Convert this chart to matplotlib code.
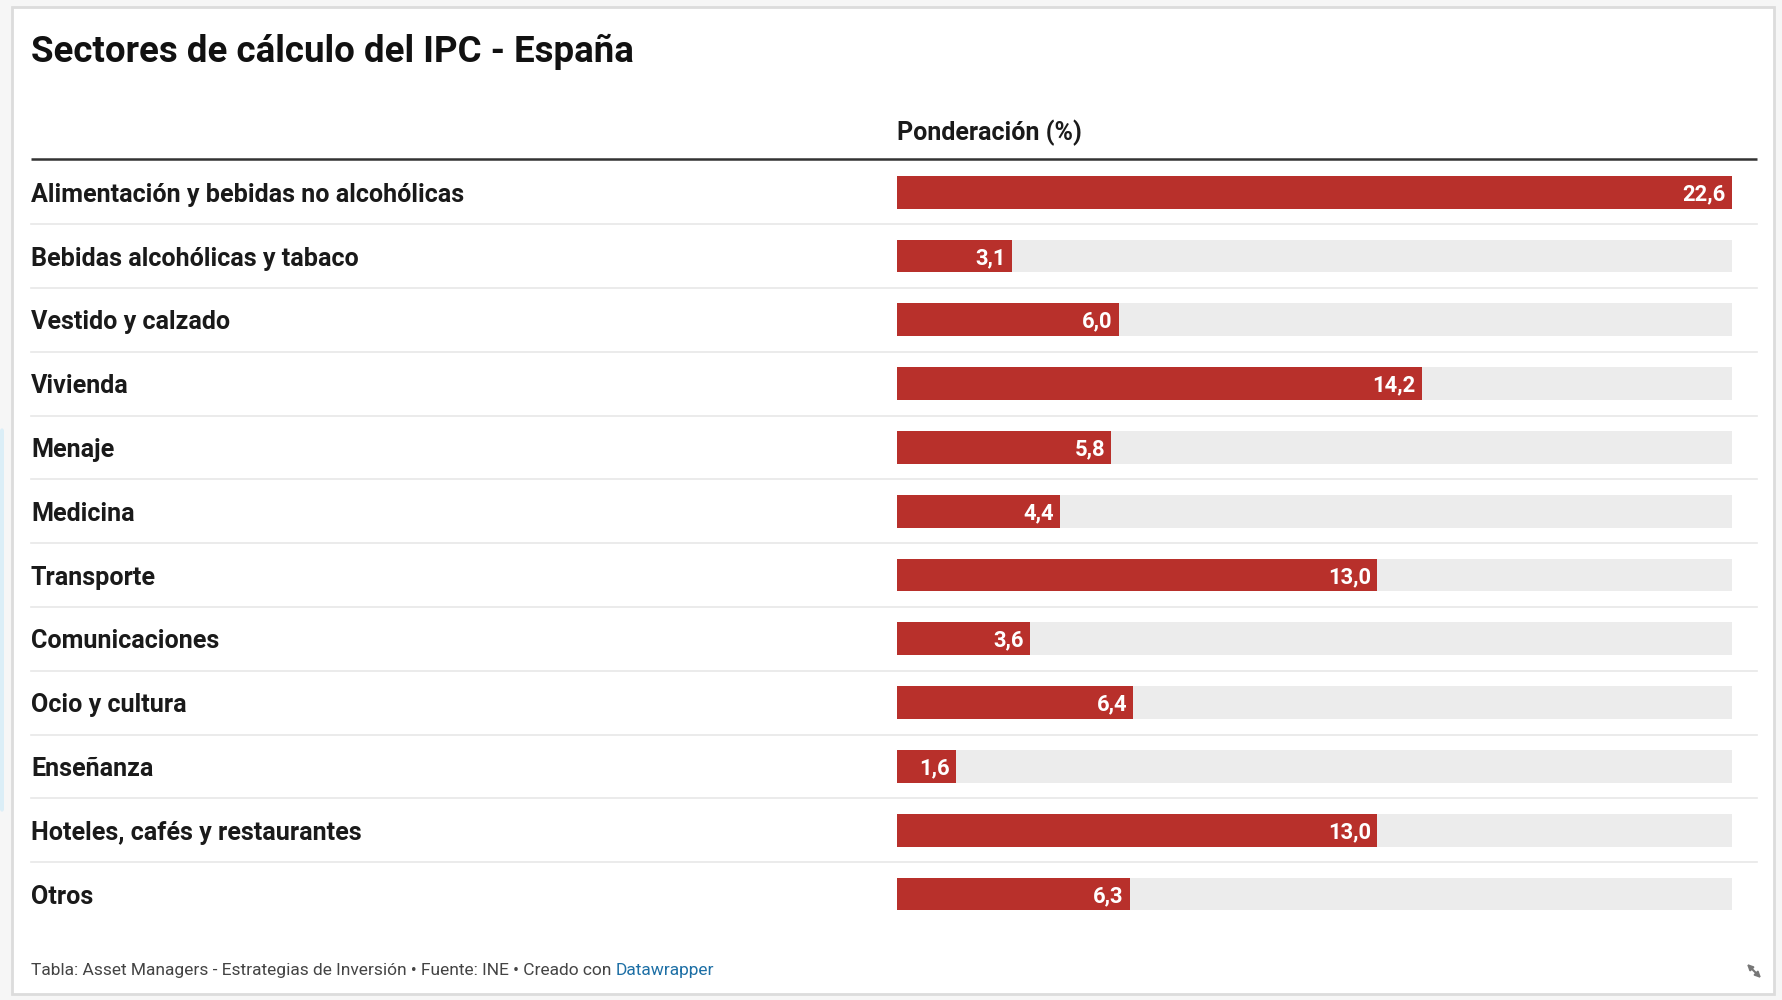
import matplotlib.pyplot as plt
from matplotlib.patches import FancyBboxPatch, Rectangle
import matplotlib.transforms as mtransforms

categories = [
    "Alimentación y bebidas no alcohólicas",
    "Bebidas alcohólicas y tabaco",
    "Vestido y calzado",
    "Vivienda",
    "Menaje",
    "Medicina",
    "Transporte",
    "Comunicaciones",
    "Ocio y cultura",
    "Enseñanza",
    "Hoteles, cafés y restaurantes",
    "Otros",
]
weights = [22.6, 3.1, 6.0, 14.2, 5.8, 4.4, 13.0, 3.6, 6.4, 1.6, 13.0, 6.3]
value_labels = [f"{v:.1f}".replace(".", ",") for v in weights]

title = "Sectores de cálculo del IPC - España"
column_header = "Ponderación (%)"
footer = "Tabla: Asset Managers - Estrategias de Inversión • Fuente: INE • Creado con"
footer_link = "Datawrapper"

FONT = "Roboto"
RED = "#b8302b"
TRACK = "#ececec"
INK = "#1a1a1a"

W, H = 1783, 1000
fig = plt.figure(figsize=(W / 100, H / 100), dpi=100)
fig.patch.set_facecolor("#f6f6f6")

# background axes in pixel units for the card and decorations
bg = fig.add_axes([0, 0, 1, 1])
bg.set_xlim(0, W)
bg.set_ylim(H, 0)
bg.axis("off")

bg.add_patch(Rectangle((12, 7), 1762, 987, facecolor="white",
                       edgecolor="#dcdcdc", linewidth=2))
bg.add_patch(FancyBboxPatch((0, 428), 4, 384, boxstyle="round,pad=0,rounding_size=3",
                            facecolor="#dbeef7", edgecolor="none"))

bg.text(31, 62, title, fontsize=26.4, fontweight="bold", family=FONT,
        color="#111111", va="baseline", ha="left")
bg.text(897, 140, column_header, fontsize=18, fontweight="bold", family=FONT,
        color=INK, va="baseline", ha="left")
bg.plot([31, 1757], [159, 159], color="#333333", linewidth=1.8, solid_capstyle="butt")

ft = bg.text(31, 975, footer, fontsize=12.5, family=FONT, color="#444444",
             va="baseline", ha="left")
bg.annotate(footer_link, xy=(1, 0), xycoords=ft, xytext=(3.2, 0),
            textcoords="offset points", fontsize=12.5, family=FONT,
            color="#1d6fa5", va="bottom", ha="left")

bg.annotate("", xy=(1745, 962), xytext=(1763, 980),
            arrowprops=dict(arrowstyle="<|-|>", color="#777777", lw=1.5,
                            mutation_scale=8))

# bar axes: one row per category
n = len(categories)
top_px, bottom_px = 160.3, 925.9
left_px, right_px = 897, 1732
ax = fig.add_axes([left_px / W, 1 - bottom_px / H,
                   (right_px - left_px) / W, (bottom_px - top_px) / H])
ax.set_xlim(0, max(weights))
ax.set_ylim(n - 0.5, -0.5)
ax.axis("off")

rows = list(range(n))
ax.barh(rows, [max(weights)] * n, height=0.517, color=TRACK, linewidth=0)
ax.barh(rows, weights, height=0.517, color=RED, linewidth=0)

px_per_x = (right_px - left_px) / max(weights)
for i in rows[:-1]:
    ax.axhline(i + 0.5, xmin=(31 - left_px) / (right_px - left_px),
               xmax=(1757 - left_px) / (right_px - left_px),
               color="#e8e8e8", linewidth=1.2, clip_on=False)

label_tf = mtransforms.blended_transform_factory(fig.transFigure, ax.transData)
for i, (cat, v, lab) in enumerate(zip(categories, weights, value_labels)):
    ax.text(31 / W, i + 0.15, cat, transform=label_tf, fontsize=18.1,
            fontweight="bold", family=FONT, color=INK, va="baseline", ha="left")
    ax.text(v - 6 / px_per_x, i + 0.125, lab, fontsize=15.8, fontweight="bold",
            family=FONT, color="white", va="baseline", ha="right")

fig.savefig("out.png", dpi=100, facecolor=fig.get_facecolor())
